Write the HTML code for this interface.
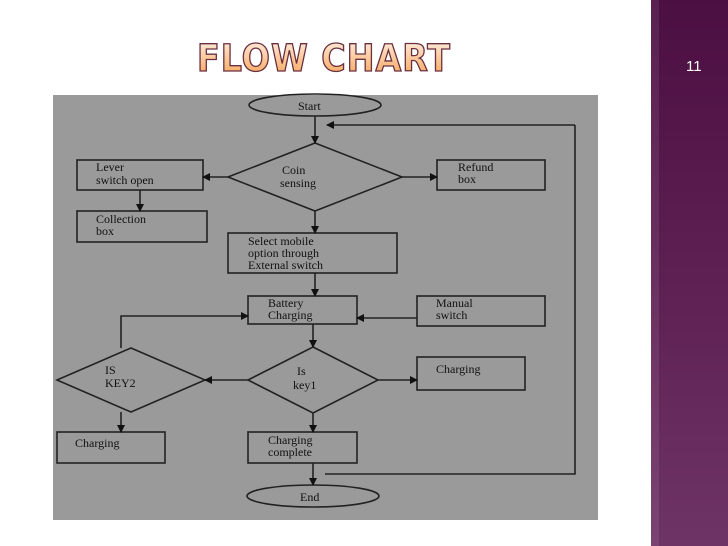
<!DOCTYPE html>
<html><head><style>
body{margin:0;width:728px;height:546px;background:#fff;position:relative;overflow:hidden;font-family:"Liberation Sans",sans-serif}
.bar{position:absolute;left:651px;top:0;width:77px;height:546px;background:linear-gradient(180deg,#4c0f42 0%,#5e1f52 50%,#6e3466 100%)}
.bar:before{content:"";position:absolute;left:0;top:0;width:8px;height:546px;background:rgba(255,255,255,0.08)}
.num{position:absolute;left:686px;top:58px;color:#fff;font-size:15px}
</style></head><body>
<div class="bar"></div><div class="num">11</div>
<svg width="728" height="546" style="position:absolute;left:0;top:0">
<defs>
<linearGradient id="tg" x1="0" y1="0" x2="0" y2="1"><stop offset="0" stop-color="#fff4ea"/><stop offset="0.5" stop-color="#fbc89a"/><stop offset="1" stop-color="#f4a050"/></linearGradient>
<marker id="a" markerWidth="8" markerHeight="8" refX="7" refY="4" orient="auto" markerUnits="userSpaceOnUse"><path d="M0,0L8,4L0,8z" fill="#111"/></marker>
</defs>
<text x="324" y="71" text-anchor="middle" font-family="DejaVu Sans Condensed, DejaVu Sans, sans-serif" font-weight="bold" font-size="37" fill="url(#tg)" stroke="#6b3040" stroke-width="1.3" letter-spacing="1">FLOW CHART</text>
<rect x="53" y="95" width="545" height="425" fill="#9a9a9a"/>
<g stroke="#222" stroke-width="1.6" fill="none" font-family="Liberation Serif,serif" font-size="12">
<ellipse cx="315" cy="105" rx="66" ry="11"/>
<ellipse cx="313" cy="496" rx="66" ry="11"/>
<polygon points="315,143 402,177 315,211 228,177"/>
<polygon points="313,347 378,380 313,413 248,380"/>
<polygon points="131,348 205,380 131,412 57,380"/>
<rect x="77" y="160" width="126" height="30"/>
<rect x="437" y="160" width="108" height="30"/>
<rect x="77" y="211" width="130" height="31"/>
<rect x="228" y="233" width="169" height="40"/>
<rect x="248" y="296" width="109" height="28"/>
<rect x="417" y="296" width="128" height="30"/>
<rect x="417" y="357" width="108" height="33"/>
<rect x="57" y="432" width="108" height="31"/>
<rect x="248" y="432" width="109" height="31"/>
<g marker-end="url(#a)">
<line x1="315" y1="116" x2="315" y2="143"/>
<line x1="575" y1="125" x2="327" y2="125"/>
<line x1="228" y1="177" x2="203" y2="177"/>
<line x1="402" y1="177" x2="437" y2="177"/>
<line x1="140" y1="190" x2="140" y2="211"/>
<line x1="315" y1="211" x2="315" y2="233"/>
<line x1="315" y1="273" x2="315" y2="296"/>
<line x1="417" y1="318" x2="357" y2="318"/>
<polyline points="121,348 121,316 248,316"/>
<line x1="313" y1="324" x2="313" y2="347"/>
<line x1="248" y1="380" x2="205" y2="380"/>
<line x1="378" y1="380" x2="417" y2="380"/>
<line x1="121" y1="412" x2="121" y2="432"/>
<line x1="313" y1="413" x2="313" y2="432"/>
<line x1="313" y1="463" x2="313" y2="485"/>
</g>
<polyline points="325,474 575,474 575,125"/>
</g>
<g font-family="Liberation Serif,serif" font-size="12" fill="#111">
<text x="298" y="110">Start</text>
<text x="300" y="501">End</text>
<text x="282" y="174">Coin</text><text x="280" y="187">sensing</text>
<text x="96" y="171">Lever</text><text x="96" y="184">switch open</text>
<text x="458" y="171">Refund</text><text x="458" y="183">box</text>
<text x="96" y="223">Collection</text><text x="96" y="235">box</text>
<text x="248" y="245">Select mobile</text><text x="248" y="257">option through</text><text x="248" y="269">External switch</text>
<text x="268" y="307">Battery</text><text x="268" y="319">Charging</text>
<text x="436" y="307">Manual</text><text x="436" y="319">switch</text>
<text x="297" y="375">Is</text><text x="293" y="389">key1</text>
<text x="105" y="374">IS</text><text x="105" y="387">KEY2</text>
<text x="436" y="373">Charging</text>
<text x="75" y="447">Charging</text>
<text x="268" y="444">Charging</text><text x="268" y="456">complete</text>
</g>
</svg>
</body></html>
